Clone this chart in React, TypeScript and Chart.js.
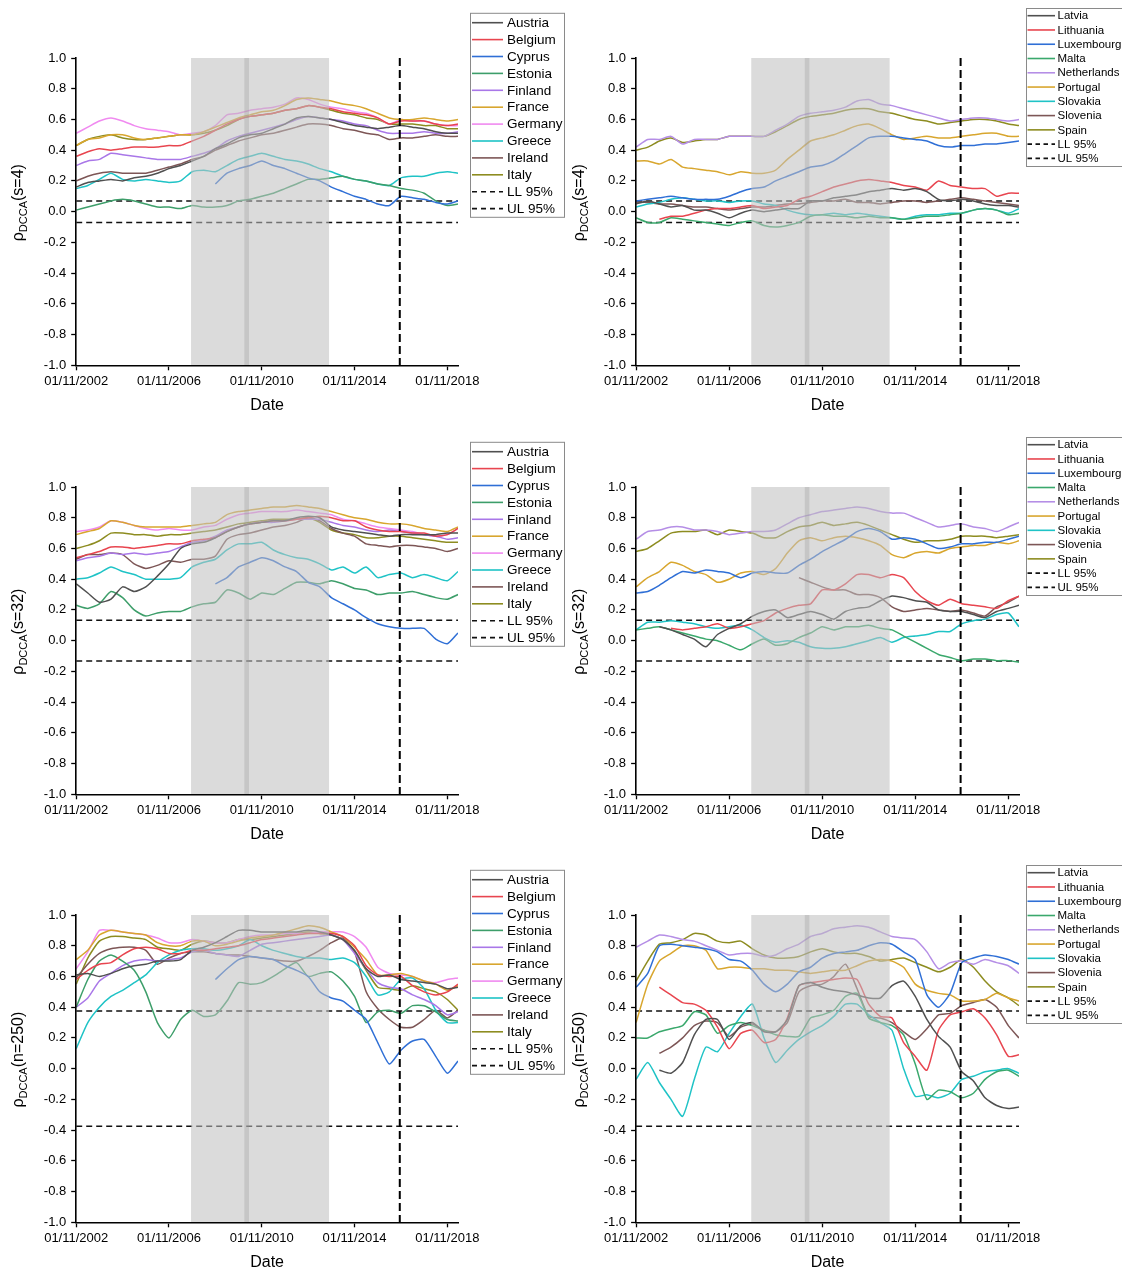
import React, { useEffect, useRef } from 'react';
import { Chart, registerables } from 'chart.js';

Chart.register(...registerables);

const FONT = "'Liberation Sans', Arial, Helvetica, sans-serif";

// ---------- shared axis data (years since 01/11/2002) ----------
const T = [0, 0.5, 1, 1.5, 2, 2.5, 3, 3.5, 4, 4.5, 5, 5.5, 6, 6.5, 7, 7.5, 8, 8.5, 9, 9.5, 10, 10.5, 11, 11.5, 12, 12.5, 13, 13.5, 14, 14.5, 15, 15.5, 16, 16.46];
const X_END = 16.46;
const BASE_YEAR = 2002;
const X_TICKS = [0, 4, 8, 12, 16];
const Y_TICKS = [-1, -0.8, -0.6, -0.4, -0.2, 0, 0.2, 0.4, 0.6, 0.8, 1];
const SHADE_START = 4.95;
const SHADE_END = 10.9;
const BAND_START = 7.25;
const BAND_END = 7.45;
const BREAK_T = 13.95;

const LIMIT_S4 = 0.07;
const LIMIT_S32 = 0.133;
const LIMIT_N250 = 0.375;

const LEFT_NAMES = ['Austria', 'Belgium', 'Cyprus', 'Estonia', 'Finland', 'France', 'Germany', 'Greece', 'Ireland', 'Italy'];
const LEFT_COLORS = ['#505050', '#e8454f', '#2f6fd6', '#3d9e6a', '#a977e8', '#d8a62e', '#f08af0', '#1fc3c6', '#7d5656', '#8d8c20'];
const RIGHT_NAMES = ['Latvia', 'Lithuania', 'Luxembourg', 'Malta', 'Netherlands', 'Portugal', 'Slovakia', 'Slovenia', 'Spain'];
const RIGHT_COLORS = ['#505050', '#e8454f', '#2f6fd6', '#3aa86c', '#b58ee6', '#d8a62e', '#1fc3c6', '#7d5656', '#8d8c20'];

const N = null;

// ---------- s = 4, group A ----------
const S4_AUSTRIA = [0.16, 0.19, 0.20, 0.21, 0.20, 0.22, 0.23, 0.25, 0.28, 0.30, 0.33, 0.36, 0.41, 0.44, 0.48, 0.50, 0.51, 0.54, 0.57, 0.61, 0.62, 0.61, 0.60, 0.58, 0.56, 0.55, 0.54, 0.55, 0.56, 0.55, 0.54, 0.52, 0.51, 0.51];
const S4_BELGIUM = [0.36, 0.39, 0.41, 0.40, 0.41, 0.42, 0.42, 0.42, 0.43, 0.43, 0.46, 0.49, 0.53, 0.57, 0.60, 0.62, 0.63, 0.64, 0.66, 0.67, 0.69, 0.68, 0.67, 0.65, 0.64, 0.63, 0.61, 0.57, 0.59, 0.59, 0.59, 0.57, 0.56, 0.57];
const S4_CYPRUS = [N, N, N, N, N, N, N, N, N, N, N, N, 0.18, 0.25, 0.28, 0.30, 0.33, 0.30, 0.28, 0.25, 0.22, 0.20, 0.16, 0.13, 0.10, 0.08, 0.05, 0.04, 0.10, 0.09, 0.08, 0.06, 0.05, 0.07];
const S4_ESTONIA = [0.01, 0.03, 0.05, 0.07, 0.08, 0.07, 0.05, 0.03, 0.03, 0.02, 0.04, 0.03, 0.03, 0.04, 0.07, 0.08, 0.10, 0.12, 0.15, 0.18, 0.21, 0.21, 0.22, 0.23, 0.21, 0.20, 0.18, 0.17, 0.15, 0.14, 0.12, 0.07, 0.04, 0.05];
const S4_FINLAND = [0.30, 0.33, 0.34, 0.38, 0.37, 0.36, 0.35, 0.34, 0.34, 0.34, 0.36, 0.38, 0.41, 0.46, 0.49, 0.51, 0.53, 0.55, 0.57, 0.60, 0.62, 0.61, 0.60, 0.59, 0.57, 0.56, 0.53, 0.51, 0.51, 0.51, 0.52, 0.51, 0.51, 0.52];
const S4_FRANCE = [0.43, 0.47, 0.48, 0.50, 0.50, 0.48, 0.47, 0.48, 0.49, 0.50, 0.50, 0.52, 0.55, 0.58, 0.61, 0.63, 0.65, 0.66, 0.69, 0.73, 0.74, 0.73, 0.72, 0.70, 0.69, 0.67, 0.64, 0.61, 0.60, 0.60, 0.61, 0.60, 0.59, 0.60];
const S4_GERMANY = [0.51, 0.55, 0.59, 0.61, 0.59, 0.56, 0.54, 0.53, 0.52, 0.50, 0.51, 0.52, 0.56, 0.63, 0.64, 0.66, 0.67, 0.68, 0.70, 0.74, 0.73, 0.70, 0.68, 0.67, 0.65, 0.64, 0.61, 0.57, 0.60, 0.59, 0.59, 0.57, 0.56, 0.56];
const S4_GREECE = [0.15, 0.17, 0.21, 0.25, 0.21, 0.20, 0.21, 0.20, 0.19, 0.20, 0.26, 0.27, 0.26, 0.30, 0.34, 0.36, 0.38, 0.36, 0.34, 0.33, 0.31, 0.28, 0.26, 0.23, 0.21, 0.20, 0.18, 0.17, 0.22, 0.23, 0.23, 0.25, 0.26, 0.25];
const S4_IRELAND = [0.20, 0.23, 0.25, 0.26, 0.25, 0.25, 0.25, 0.27, 0.29, 0.31, 0.34, 0.36, 0.40, 0.43, 0.46, 0.48, 0.50, 0.51, 0.53, 0.55, 0.57, 0.57, 0.56, 0.54, 0.53, 0.51, 0.50, 0.47, 0.48, 0.48, 0.49, 0.50, 0.49, 0.49];
const S4_ITALY = [0.43, 0.47, 0.49, 0.50, 0.48, 0.47, 0.47, 0.48, 0.49, 0.50, 0.50, 0.51, 0.53, 0.56, 0.60, 0.62, 0.63, 0.64, 0.66, 0.67, 0.69, 0.68, 0.66, 0.64, 0.63, 0.61, 0.60, 0.57, 0.57, 0.57, 0.56, 0.56, 0.54, 0.54];

// ---------- s = 4, group B ----------
const S4_LATVIA = [0.05, 0.07, 0.05, 0.03, 0.04, 0.01, 0.01, -0.01, -0.04, -0.01, 0.01, 0.00, 0.01, 0.02, 0.02, 0.07, 0.07, 0.09, 0.10, 0.11, 0.13, 0.14, 0.15, 0.14, 0.15, 0.13, 0.08, 0.07, 0.08, 0.07, 0.05, 0.04, 0.04, 0.03];
const S4_LITHUANIA = [N, N, -0.05, -0.03, -0.03, -0.01, 0.01, 0.02, 0.02, 0.03, 0.04, 0.02, 0.03, 0.04, 0.08, 0.10, 0.13, 0.16, 0.18, 0.20, 0.21, 0.20, 0.19, 0.17, 0.16, 0.14, 0.20, 0.17, 0.16, 0.15, 0.15, 0.10, 0.12, 0.12];
const S4_LUXEMBOURG = [0.07, 0.08, 0.09, 0.10, 0.09, 0.08, 0.08, 0.08, 0.10, 0.13, 0.15, 0.16, 0.20, 0.23, 0.26, 0.29, 0.30, 0.33, 0.38, 0.43, 0.48, 0.49, 0.49, 0.48, 0.47, 0.46, 0.43, 0.42, 0.43, 0.43, 0.44, 0.44, 0.45, 0.46];
const S4_MALTA = [-0.04, -0.07, -0.07, -0.04, -0.05, -0.06, -0.07, -0.08, -0.09, -0.07, -0.06, -0.09, -0.10, -0.09, -0.07, -0.03, -0.02, -0.03, -0.03, -0.04, -0.03, -0.04, -0.04, -0.05, -0.04, -0.03, -0.03, -0.02, -0.01, 0.01, 0.02, 0.01, -0.02, -0.01];
const S4_NETHERLANDS = [0.42, 0.47, 0.47, 0.49, 0.44, 0.47, 0.47, 0.47, 0.49, 0.49, 0.49, 0.49, 0.53, 0.57, 0.62, 0.64, 0.65, 0.66, 0.68, 0.72, 0.73, 0.70, 0.69, 0.67, 0.65, 0.63, 0.61, 0.59, 0.60, 0.61, 0.61, 0.60, 0.59, 0.60];
const S4_PORTUGAL = [0.33, 0.33, 0.31, 0.34, 0.29, 0.28, 0.27, 0.26, 0.24, 0.26, 0.25, 0.25, 0.27, 0.34, 0.40, 0.46, 0.48, 0.50, 0.53, 0.56, 0.57, 0.54, 0.50, 0.47, 0.48, 0.49, 0.48, 0.48, 0.49, 0.50, 0.51, 0.51, 0.49, 0.49];
const S4_SLOVAKIA = [0.03, 0.05, 0.06, 0.08, 0.09, 0.08, 0.07, 0.07, 0.06, 0.07, 0.07, 0.05, 0.04, 0.01, -0.01, -0.02, -0.02, -0.01, -0.02, -0.01, -0.02, -0.03, -0.04, -0.05, -0.03, -0.02, -0.02, -0.01, -0.01, 0.01, 0.02, 0.01, -0.01, 0.02];
const S4_SLOVENIA = [0.06, 0.06, 0.05, 0.05, 0.04, 0.03, 0.03, 0.02, 0.01, 0.02, 0.03, 0.03, 0.04, 0.05, 0.05, 0.06, 0.07, 0.07, 0.08, 0.06, 0.06, 0.05, 0.06, 0.07, 0.07, 0.06, 0.07, 0.08, 0.09, 0.08, 0.07, 0.06, 0.05, 0.04];
const S4_SPAIN = [0.40, 0.42, 0.46, 0.48, 0.45, 0.46, 0.47, 0.47, 0.49, 0.49, 0.49, 0.49, 0.52, 0.56, 0.60, 0.62, 0.63, 0.64, 0.66, 0.67, 0.67, 0.65, 0.64, 0.62, 0.60, 0.59, 0.57, 0.58, 0.59, 0.60, 0.60, 0.59, 0.57, 0.56];

// ---------- s = 32, group A ----------
const S32_AUSTRIA = [0.37, 0.31, 0.25, 0.27, 0.35, 0.32, 0.35, 0.42, 0.50, 0.60, 0.63, 0.64, 0.67, 0.71, 0.74, 0.76, 0.77, 0.78, 0.78, 0.80, 0.81, 0.80, 0.74, 0.72, 0.71, 0.70, 0.69, 0.68, 0.69, 0.69, 0.69, 0.69, 0.70, 0.70];
const S32_BELGIUM = [0.54, 0.56, 0.58, 0.61, 0.61, 0.60, 0.61, 0.62, 0.63, 0.63, 0.65, 0.66, 0.67, 0.71, 0.74, 0.76, 0.77, 0.78, 0.78, 0.79, 0.80, 0.81, 0.80, 0.78, 0.78, 0.74, 0.72, 0.71, 0.71, 0.70, 0.70, 0.68, 0.69, 0.73];
const S32_CYPRUS = [N, N, N, N, N, N, N, N, N, N, N, N, 0.37, 0.41, 0.48, 0.51, 0.54, 0.52, 0.48, 0.45, 0.38, 0.35, 0.28, 0.24, 0.20, 0.15, 0.11, 0.09, 0.08, 0.08, 0.08, 0.01, -0.02, 0.05];
const S32_ESTONIA = [0.23, 0.21, 0.24, 0.32, 0.28, 0.20, 0.16, 0.18, 0.19, 0.19, 0.22, 0.24, 0.25, 0.33, 0.31, 0.27, 0.31, 0.30, 0.34, 0.38, 0.38, 0.37, 0.39, 0.37, 0.34, 0.33, 0.30, 0.31, 0.31, 0.32, 0.30, 0.28, 0.27, 0.30];
const S32_FINLAND = [0.52, 0.54, 0.55, 0.57, 0.56, 0.57, 0.56, 0.57, 0.58, 0.61, 0.64, 0.65, 0.68, 0.72, 0.74, 0.76, 0.77, 0.77, 0.78, 0.79, 0.79, 0.79, 0.77, 0.75, 0.74, 0.72, 0.71, 0.72, 0.71, 0.70, 0.69, 0.68, 0.66, 0.67];
const S32_FRANCE = [0.69, 0.71, 0.73, 0.78, 0.77, 0.75, 0.74, 0.74, 0.74, 0.74, 0.75, 0.76, 0.77, 0.82, 0.84, 0.85, 0.86, 0.87, 0.87, 0.88, 0.87, 0.86, 0.84, 0.82, 0.80, 0.79, 0.77, 0.76, 0.76, 0.75, 0.73, 0.72, 0.71, 0.74];
const S32_GERMANY = [0.71, 0.72, 0.74, 0.78, 0.77, 0.75, 0.73, 0.72, 0.73, 0.72, 0.72, 0.74, 0.75, 0.79, 0.82, 0.83, 0.84, 0.84, 0.84, 0.85, 0.84, 0.83, 0.82, 0.79, 0.78, 0.76, 0.74, 0.73, 0.72, 0.71, 0.69, 0.68, 0.69, 0.73];
const S32_GREECE = [0.40, 0.41, 0.44, 0.48, 0.45, 0.43, 0.40, 0.40, 0.40, 0.41, 0.48, 0.51, 0.53, 0.59, 0.63, 0.63, 0.64, 0.59, 0.56, 0.54, 0.53, 0.50, 0.46, 0.48, 0.44, 0.48, 0.41, 0.43, 0.44, 0.41, 0.43, 0.41, 0.39, 0.45];
const S32_IRELAND = [0.53, 0.56, 0.56, 0.57, 0.56, 0.50, 0.47, 0.49, 0.52, 0.51, 0.53, 0.53, 0.55, 0.66, 0.69, 0.70, 0.72, 0.74, 0.75, 0.77, 0.80, 0.78, 0.73, 0.70, 0.68, 0.63, 0.62, 0.61, 0.62, 0.62, 0.61, 0.60, 0.58, 0.60];
const S32_ITALY = [0.60, 0.62, 0.65, 0.70, 0.70, 0.69, 0.69, 0.68, 0.69, 0.69, 0.70, 0.71, 0.72, 0.74, 0.76, 0.77, 0.78, 0.79, 0.79, 0.79, 0.80, 0.77, 0.72, 0.70, 0.69, 0.67, 0.67, 0.68, 0.68, 0.67, 0.66, 0.65, 0.64, 0.64];

// ---------- s = 32, group B ----------
const S32_LATVIA = [N, N, 0.09, 0.07, 0.04, 0.01, -0.04, 0.04, 0.08, 0.11, 0.16, 0.19, 0.20, 0.15, 0.17, 0.19, 0.17, 0.14, 0.19, 0.21, 0.22, 0.26, 0.29, 0.28, 0.26, 0.25, 0.20, 0.19, 0.19, 0.17, 0.15, 0.19, 0.21, 0.23];
const S32_LITHUANIA = [N, N, N, 0.08, 0.07, 0.08, 0.09, 0.11, 0.08, 0.09, 0.11, 0.13, 0.18, 0.21, 0.23, 0.24, 0.33, 0.33, 0.37, 0.43, 0.43, 0.41, 0.43, 0.41, 0.32, 0.26, 0.23, 0.27, 0.24, 0.23, 0.22, 0.21, 0.26, 0.29];
const S32_LUXEMBOURG = [0.31, 0.32, 0.36, 0.41, 0.45, 0.44, 0.46, 0.45, 0.44, 0.41, 0.44, 0.45, 0.44, 0.44, 0.49, 0.53, 0.58, 0.62, 0.66, 0.71, 0.73, 0.71, 0.66, 0.67, 0.66, 0.63, 0.60, 0.61, 0.63, 0.63, 0.64, 0.64, 0.66, 0.68];
const S32_MALTA = [0.07, 0.08, 0.09, 0.07, 0.05, 0.03, 0.01, 0.00, -0.03, -0.06, -0.02, 0.01, -0.03, -0.02, 0.02, 0.05, 0.09, 0.07, 0.09, 0.09, 0.10, 0.08, 0.07, 0.03, -0.01, -0.05, -0.09, -0.11, -0.13, -0.12, -0.12, -0.13, -0.13, -0.14];
const S32_NETHERLANDS = [0.66, 0.71, 0.72, 0.74, 0.74, 0.72, 0.72, 0.71, 0.69, 0.70, 0.71, 0.71, 0.72, 0.76, 0.80, 0.82, 0.84, 0.85, 0.86, 0.87, 0.86, 0.84, 0.83, 0.83, 0.80, 0.77, 0.74, 0.75, 0.76, 0.74, 0.73, 0.71, 0.74, 0.77];
const S32_PORTUGAL = [0.35, 0.41, 0.45, 0.51, 0.49, 0.45, 0.43, 0.38, 0.40, 0.44, 0.45, 0.43, 0.47, 0.57, 0.65, 0.67, 0.65, 0.67, 0.68, 0.67, 0.65, 0.62, 0.56, 0.54, 0.57, 0.58, 0.57, 0.60, 0.61, 0.62, 0.62, 0.64, 0.63, 0.65];
const S32_SLOVAKIA = [0.07, 0.12, 0.12, 0.13, 0.12, 0.11, 0.09, 0.08, 0.09, 0.10, 0.07, 0.02, -0.01, 0.00, -0.01, -0.04, -0.05, -0.05, -0.04, -0.02, 0.00, 0.02, -0.01, 0.02, 0.03, 0.04, 0.06, 0.06, 0.11, 0.13, 0.14, 0.17, 0.18, 0.09];
const S32_SLOVENIA = [N, N, N, N, N, N, N, N, N, N, N, N, N, N, 0.41, 0.38, 0.35, 0.33, 0.33, 0.30, 0.30, 0.28, 0.22, 0.19, 0.20, 0.21, 0.20, 0.19, 0.20, 0.18, 0.16, 0.22, 0.25, 0.29];
const S32_SPAIN = [0.58, 0.60, 0.65, 0.70, 0.71, 0.71, 0.72, 0.69, 0.72, 0.71, 0.70, 0.67, 0.67, 0.71, 0.74, 0.75, 0.77, 0.75, 0.76, 0.77, 0.75, 0.72, 0.69, 0.66, 0.64, 0.65, 0.65, 0.66, 0.68, 0.68, 0.68, 0.67, 0.68, 0.69];

// ---------- n = 250, group A ----------
const N250_AUSTRIA = [0.61, 0.62, 0.60, 0.62, 0.65, 0.67, 0.68, 0.70, 0.70, 0.71, 0.77, 0.79, 0.82, 0.86, 0.90, 0.90, 0.89, 0.89, 0.89, 0.89, 0.90, 0.89, 0.87, 0.84, 0.77, 0.65, 0.60, 0.61, 0.58, 0.57, 0.56, 0.55, 0.52, 0.53];
const N250_BELGIUM = [0.58, 0.64, 0.68, 0.69, 0.74, 0.78, 0.79, 0.78, 0.75, 0.75, 0.77, 0.77, 0.78, 0.79, 0.80, 0.82, 0.84, 0.85, 0.86, 0.87, 0.88, 0.88, 0.88, 0.86, 0.80, 0.67, 0.61, 0.60, 0.60, 0.54, 0.50, 0.48, 0.50, 0.55];
const N250_CYPRUS = [N, N, N, N, N, N, N, N, N, N, N, N, 0.58, 0.65, 0.71, 0.73, 0.72, 0.71, 0.67, 0.64, 0.60, 0.50, 0.46, 0.44, 0.38, 0.32, 0.17, 0.03, 0.12, 0.18, 0.19, 0.08, -0.03, 0.05];
const N250_ESTONIA = [0.40, 0.58, 0.70, 0.74, 0.70, 0.64, 0.50, 0.30, 0.20, 0.32, 0.38, 0.34, 0.35, 0.44, 0.56, 0.55, 0.56, 0.60, 0.65, 0.69, 0.60, 0.62, 0.63, 0.57, 0.47, 0.30, 0.37, 0.38, 0.36, 0.41, 0.41, 0.37, 0.32, 0.31];
const N250_FINLAND = [0.40, 0.46, 0.57, 0.62, 0.67, 0.70, 0.71, 0.70, 0.71, 0.72, 0.76, 0.77, 0.75, 0.74, 0.73, 0.77, 0.81, 0.82, 0.83, 0.84, 0.85, 0.86, 0.87, 0.84, 0.75, 0.65, 0.56, 0.53, 0.52, 0.48, 0.45, 0.41, 0.35, 0.37];
const N250_FRANCE = [0.71, 0.77, 0.87, 0.90, 0.89, 0.88, 0.87, 0.82, 0.80, 0.80, 0.83, 0.83, 0.80, 0.81, 0.83, 0.85, 0.86, 0.87, 0.89, 0.91, 0.93, 0.92, 0.89, 0.86, 0.79, 0.71, 0.61, 0.61, 0.62, 0.60, 0.57, 0.55, 0.51, 0.54];
const N250_GERMANY = [0.65, 0.76, 0.90, 0.90, 0.89, 0.88, 0.87, 0.85, 0.82, 0.82, 0.84, 0.83, 0.82, 0.82, 0.84, 0.86, 0.87, 0.87, 0.88, 0.88, 0.88, 0.89, 0.89, 0.89, 0.86, 0.79, 0.66, 0.62, 0.61, 0.60, 0.57, 0.56, 0.58, 0.59];
const N250_GREECE = [0.13, 0.30, 0.40, 0.47, 0.51, 0.56, 0.61, 0.69, 0.74, 0.77, 0.78, 0.78, 0.77, 0.78, 0.80, 0.84, 0.80, 0.77, 0.75, 0.73, 0.72, 0.72, 0.71, 0.72, 0.69, 0.60, 0.48, 0.50, 0.58, 0.59, 0.52, 0.38, 0.30, 0.30];
const N250_IRELAND = [0.59, 0.68, 0.75, 0.78, 0.79, 0.79, 0.77, 0.68, 0.72, 0.75, 0.76, 0.76, 0.75, 0.74, 0.74, 0.73, 0.72, 0.71, 0.70, 0.70, 0.73, 0.77, 0.82, 0.85, 0.76, 0.50, 0.39, 0.32, 0.27, 0.27, 0.32, 0.38, 0.33, 0.38];
const N250_ITALY = [0.55, 0.72, 0.83, 0.86, 0.86, 0.85, 0.84, 0.79, 0.78, 0.77, 0.81, 0.83, 0.82, 0.82, 0.84, 0.84, 0.85, 0.86, 0.87, 0.88, 0.89, 0.88, 0.87, 0.84, 0.76, 0.64, 0.53, 0.52, 0.51, 0.54, 0.52, 0.50, 0.45, 0.38];

// ---------- n = 250, group B ----------
const N250_LATVIA = [N, N, -0.01, -0.03, 0.04, 0.22, 0.32, 0.32, 0.19, 0.28, 0.30, 0.24, 0.24, 0.32, 0.54, 0.56, 0.53, 0.51, 0.50, 0.48, 0.46, 0.46, 0.54, 0.57, 0.47, 0.32, 0.21, 0.14, -0.02, -0.08, -0.19, -0.24, -0.26, -0.25];
const N250_LITHUANIA = [N, N, 0.53, 0.48, 0.43, 0.42, 0.38, 0.27, 0.13, 0.23, 0.25, 0.17, 0.19, 0.33, 0.54, 0.56, 0.57, 0.58, 0.59, 0.58, 0.42, 0.34, 0.33, 0.17, 0.08, -0.01, 0.25, 0.35, 0.37, 0.39, 0.33, 0.22, 0.08, 0.09];
const N250_LUXEMBOURG = [0.53, 0.62, 0.80, 0.81, 0.80, 0.79, 0.78, 0.76, 0.71, 0.70, 0.64, 0.55, 0.50, 0.55, 0.63, 0.66, 0.72, 0.75, 0.76, 0.77, 0.80, 0.82, 0.81, 0.76, 0.71, 0.48, 0.40, 0.49, 0.69, 0.72, 0.74, 0.73, 0.71, 0.68];
const N250_MALTA = [0.20, 0.20, 0.24, 0.26, 0.28, 0.37, 0.35, 0.23, 0.28, 0.30, 0.28, 0.25, 0.22, 0.21, 0.21, 0.33, 0.35, 0.38, 0.47, 0.49, 0.33, 0.30, 0.28, 0.22, 0.03, -0.20, -0.14, -0.15, -0.19, -0.16, -0.07, -0.02, -0.01, -0.05];
const N250_NETHERLANDS = [0.79, 0.83, 0.87, 0.86, 0.84, 0.83, 0.80, 0.77, 0.74, 0.75, 0.75, 0.73, 0.74, 0.78, 0.81, 0.86, 0.88, 0.91, 0.92, 0.93, 0.92, 0.89, 0.86, 0.85, 0.84, 0.76, 0.65, 0.69, 0.70, 0.68, 0.71, 0.69, 0.67, 0.62];
const N250_PORTUGAL = [0.30, 0.55, 0.70, 0.75, 0.80, 0.80, 0.77, 0.65, 0.66, 0.66, 0.65, 0.65, 0.64, 0.64, 0.63, 0.62, 0.63, 0.64, 0.64, 0.67, 0.70, 0.71, 0.70, 0.66, 0.55, 0.51, 0.49, 0.48, 0.44, 0.44, 0.45, 0.49, 0.46, 0.44];
const N250_SLOVAKIA = [-0.07, 0.04, -0.09, -0.20, -0.31, -0.07, 0.14, 0.11, 0.23, 0.34, 0.42, 0.20, 0.04, 0.12, 0.19, 0.24, 0.28, 0.34, 0.42, 0.42, 0.35, 0.30, 0.25, 0.00, -0.18, -0.17, -0.19, -0.16, -0.07, -0.05, -0.02, -0.01, 0.00, -0.03];
const N250_SLOVENIA = [N, N, 0.10, 0.14, 0.20, 0.28, 0.31, 0.30, 0.21, 0.27, 0.29, 0.25, 0.24, 0.30, 0.50, 0.54, 0.55, 0.60, 0.68, 0.52, 0.34, 0.33, 0.30, 0.24, 0.19, 0.26, 0.35, 0.36, 0.41, 0.43, 0.45, 0.40, 0.28, 0.20];
const N250_SPAIN = [0.57, 0.70, 0.81, 0.82, 0.84, 0.88, 0.87, 0.83, 0.82, 0.83, 0.78, 0.74, 0.72, 0.72, 0.73, 0.76, 0.78, 0.76, 0.75, 0.75, 0.73, 0.70, 0.71, 0.72, 0.69, 0.66, 0.63, 0.66, 0.71, 0.66, 0.57, 0.50, 0.46, 0.41];

type Side = 'left' | 'right';
type PanelDef = { side: Side; sub: string; limit: number; series: (number | null)[][]; row: number };

const PANELS: PanelDef[] = [
  { side: 'left', sub: '(s=4)', limit: LIMIT_S4, row: 0, series: [S4_AUSTRIA, S4_BELGIUM, S4_CYPRUS, S4_ESTONIA, S4_FINLAND, S4_FRANCE, S4_GERMANY, S4_GREECE, S4_IRELAND, S4_ITALY] },
  { side: 'right', sub: '(s=4)', limit: LIMIT_S4, row: 0, series: [S4_LATVIA, S4_LITHUANIA, S4_LUXEMBOURG, S4_MALTA, S4_NETHERLANDS, S4_PORTUGAL, S4_SLOVAKIA, S4_SLOVENIA, S4_SPAIN] },
  { side: 'left', sub: '(s=32)', limit: LIMIT_S32, row: 1, series: [S32_AUSTRIA, S32_BELGIUM, S32_CYPRUS, S32_ESTONIA, S32_FINLAND, S32_FRANCE, S32_GERMANY, S32_GREECE, S32_IRELAND, S32_ITALY] },
  { side: 'right', sub: '(s=32)', limit: LIMIT_S32, row: 1, series: [S32_LATVIA, S32_LITHUANIA, S32_LUXEMBOURG, S32_MALTA, S32_NETHERLANDS, S32_PORTUGAL, S32_SLOVAKIA, S32_SLOVENIA, S32_SPAIN] },
  { side: 'left', sub: '(n=250)', limit: LIMIT_N250, row: 2, series: [N250_AUSTRIA, N250_BELGIUM, N250_CYPRUS, N250_ESTONIA, N250_FINLAND, N250_FRANCE, N250_GERMANY, N250_GREECE, N250_IRELAND, N250_ITALY] },
  { side: 'right', sub: '(n=250)', limit: LIMIT_N250, row: 2, series: [N250_LATVIA, N250_LITHUANIA, N250_LUXEMBOURG, N250_MALTA, N250_NETHERLANDS, N250_PORTUGAL, N250_SLOVAKIA, N250_SLOVENIA, N250_SPAIN] },
];

// ---------- layout ----------
const ROW_TOPS = [0, 428.7, 857.3];
const CANVAS_H = 414;
const PLOT_TOP = 58;
const PLOT_BOTTOM = 365.3;

type Geo = {
  canvasLeft: number; width: number; plotLeft: number; plotRight: number;
  lgX: number; lgW: number; lgTop: number; lgH: number; lgRow0: number; lgPitch: number;
  lgLine0: number; lgLine1: number; lgText: number; lgFont: number; lgDash: number[];
};

const GEO: Record<Side, Geo> = {
  left: {
    canvasLeft: 0, width: 566, plotLeft: 76.2, plotRight: 458,
    lgX: 470.5, lgW: 94, lgTop: PLOT_TOP - 44.7, lgH: 204, lgRow0: PLOT_TOP - 35.3, lgPitch: 16.9,
    lgLine0: 472, lgLine1: 503, lgText: 507, lgFont: 13.5, lgDash: [5, 4],
  },
  right: {
    canvasLeft: 561, width: 561, plotLeft: 75.1, plotRight: 458,
    lgX: 465.5, lgW: 200, lgTop: PLOT_TOP - 49.5, lgH: 158, lgRow0: PLOT_TOP - 42.3, lgPitch: 14.27,
    lgLine0: 466.5, lgLine1: 494, lgText: 496.5, lgFont: 11.5, lgDash: [4.5, 3.5],
  },
};

function buildConfig(p: PanelDef): any {
  const g = GEO[p.side];
  const names = p.side === 'left' ? LEFT_NAMES : RIGHT_NAMES;
  const colors = p.side === 'left' ? LEFT_COLORS : RIGHT_COLORS;
  const datasets: any[] = p.series.map((vals, i) => ({
    label: names[i],
    data: vals.map((v, j) => ({ x: T[j], y: v })),
    borderColor: colors[i],
    backgroundColor: colors[i],
    borderWidth: 1.5,
    pointRadius: 0,
    tension: 0.2,
    spanGaps: false,
    fill: false,
  }));
  datasets.push({
    label: 'LL 95%',
    data: [{ x: 0, y: -p.limit }, { x: X_END, y: -p.limit }],
    borderColor: '#111', borderWidth: 1.5, borderDash: [6, 4], pointRadius: 0, fill: false,
  });
  datasets.push({
    label: 'UL 95%',
    data: [{ x: 0, y: p.limit }, { x: X_END, y: p.limit }],
    borderColor: '#111', borderWidth: 1.5, borderDash: [6, 4], pointRadius: 0, fill: false,
  });

  const decor = {
    id: 'decor',
    afterDatasetsDraw(chart: any) {
      const { ctx, chartArea, scales } = chart;
      const xs = scales.x;
      const top = chartArea.top;
      const bottom = chartArea.bottom;
      ctx.save();
      const s0 = xs.getPixelForValue(SHADE_START);
      const s1 = xs.getPixelForValue(SHADE_END);
      ctx.fillStyle = 'rgba(190,190,190,0.56)';
      ctx.fillRect(s0, top, s1 - s0, bottom - top);
      const b0 = xs.getPixelForValue(BAND_START);
      const b1 = xs.getPixelForValue(BAND_END);
      ctx.fillStyle = 'rgba(150,150,150,0.3)';
      ctx.fillRect(b0, top, b1 - b0, bottom - top);
      const bx = xs.getPixelForValue(BREAK_T);
      ctx.strokeStyle = '#000';
      ctx.lineWidth = 2;
      ctx.setLineDash([8, 4]);
      ctx.beginPath();
      ctx.moveTo(bx, top);
      ctx.lineTo(bx, bottom);
      ctx.stroke();
      ctx.restore();
    },
    afterDraw(chart: any) {
      const { ctx, chartArea } = chart;
      ctx.save();
      // legend
      ctx.fillStyle = '#fff';
      ctx.fillRect(g.lgX, g.lgTop, g.lgW, g.lgH);
      ctx.strokeStyle = '#8a8a8a';
      ctx.lineWidth = 1;
      ctx.strokeRect(g.lgX, g.lgTop, g.lgW, g.lgH);
      ctx.font = `${g.lgFont}px ${FONT}`;
      ctx.textAlign = 'left';
      ctx.textBaseline = 'middle';
      chart.data.datasets.forEach((ds: any, i: number) => {
        const y = g.lgRow0 + i * g.lgPitch;
        ctx.strokeStyle = ds.borderColor;
        ctx.lineWidth = 1.6;
        ctx.setLineDash(ds.borderDash ? g.lgDash : []);
        ctx.beginPath();
        ctx.moveTo(g.lgLine0, y);
        ctx.lineTo(g.lgLine1, y);
        ctx.stroke();
        ctx.setLineDash([]);
        ctx.fillStyle = '#000';
        ctx.fillText(ds.label, g.lgText, y + 0.5);
      });
      // x title
      ctx.font = `16px ${FONT}`;
      ctx.textAlign = 'center';
      ctx.fillStyle = '#000';
      ctx.fillText('Date', (chartArea.left + chartArea.right) / 2, chartArea.bottom + 40);
      // y title with subscript
      const cy = (chartArea.top + chartArea.bottom) / 2 - 9;
      ctx.translate(22.6, cy);
      ctx.rotate(-Math.PI / 2);
      ctx.textAlign = 'left';
      ctx.textBaseline = 'alphabetic';
      ctx.font = `16px ${FONT}`;
      const w1 = ctx.measureText('\u03c1').width;
      const w3 = ctx.measureText(p.sub).width;
      ctx.font = `11px ${FONT}`;
      const w2 = ctx.measureText('DCCA').width;
      let sx = -(w1 + w2 + w3) / 2;
      ctx.font = `16px ${FONT}`;
      ctx.fillText('\u03c1', sx, 0);
      sx += w1;
      ctx.font = `11px ${FONT}`;
      ctx.fillText('DCCA', sx, 4.5);
      sx += w2;
      ctx.font = `16px ${FONT}`;
      ctx.fillText(p.sub, sx, 0);
      ctx.restore();
    },
  };

  const tickFont = { family: FONT, size: 13 };
  return {
    type: 'line',
    data: { datasets },
    options: {
      animation: false,
      responsive: false,
      maintainAspectRatio: false,
      events: [],
      layout: { padding: { left: 0, top: PLOT_TOP, right: g.width - g.plotRight, bottom: 0 } },
      plugins: { legend: { display: false }, tooltip: { enabled: false }, title: { display: false } },
      scales: {
        x: {
          type: 'linear',
          min: 0,
          max: X_END,
          afterBuildTicks: (axis: any) => { axis.ticks = X_TICKS.map((v) => ({ value: v })); },
          afterFit: (s: any) => { s.height = CANVAS_H - PLOT_BOTTOM; },
          ticks: {
            autoSkip: false, maxRotation: 0, minRotation: 0, padding: 3,
            font: tickFont, color: '#000',
            callback: (v: any) => '01/11/' + (BASE_YEAR + Number(v)),
          },
          grid: { drawOnChartArea: false, drawTicks: true, tickLength: 5, tickColor: '#000', tickWidth: 1.3 },
          border: { display: true, color: '#000', width: 1.6, z: 1 },
        },
        y: {
          type: 'linear',
          min: -1,
          max: 1,
          afterBuildTicks: (axis: any) => { axis.ticks = Y_TICKS.map((v) => ({ value: v })); },
          afterFit: (s: any) => { s.width = g.plotLeft; },
          ticks: {
            autoSkip: false, padding: 5, font: tickFont, color: '#000',
            callback: (v: any) => (Math.abs(Number(v)) < 1e-9 ? '0.0' : Number(v).toFixed(1)),
          },
          grid: { drawOnChartArea: false, drawTicks: true, tickLength: 5, tickColor: '#000', tickWidth: 1.3 },
          border: { display: true, color: '#000', width: 1.6, z: 1 },
        },
      },
    },
    plugins: [decor],
  };
}

function Panel({ def }: { def: PanelDef }) {
  const ref = useRef<HTMLCanvasElement | null>(null);
  const g = GEO[def.side];
  useEffect(() => {
    if (!ref.current) return;
    const chart = new Chart(ref.current, buildConfig(def));
    return () => chart.destroy();
  }, [def]);
  return (
    <canvas
      ref={ref}
      width={g.width}
      height={CANVAS_H}
      style={{ position: 'absolute', left: g.canvasLeft, top: ROW_TOPS[def.row], width: g.width, height: CANVAS_H }}
    />
  );
}

export default function App() {
  return (
    <div style={{ position: 'absolute', left: 0, top: 0, width: 1122, height: 1271, overflow: 'hidden', background: '#fff' }}>
      {PANELS.map((p, i) => (
        <Panel key={i} def={p} />
      ))}
    </div>
  );
}
